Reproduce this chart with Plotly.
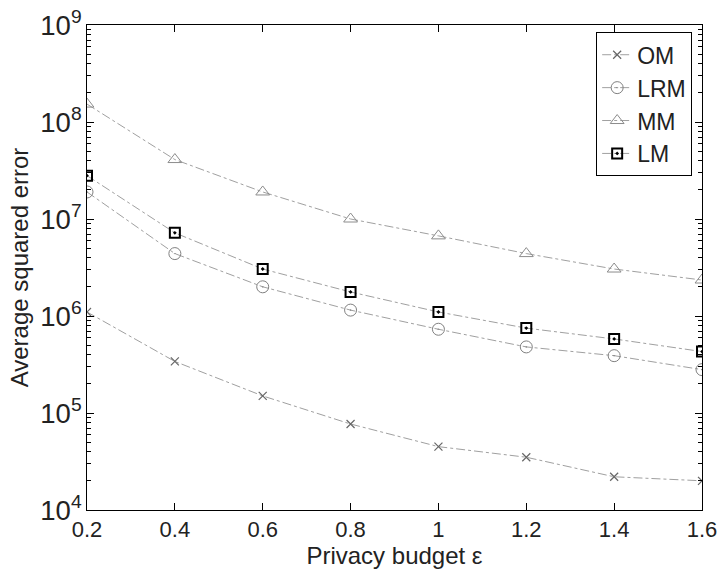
import plotly.graph_objects as go

eps = [0.2, 0.4, 0.6, 0.8, 1.0, 1.2, 1.4, 1.6]
om = [1.1e6, 3.4e5, 1.5e5, 7.7e4, 4.5e4, 3.5e4, 2.2e4, 2.0e4]
lrm = [1.9e7, 4.4e6, 2.0e6, 1.15e6, 7.3e5, 4.8e5, 3.9e5, 2.8e5]
mm = [1.53e8, 4.1e7, 1.9e7, 1.0e7, 6.7e6, 4.4e6, 3.05e6, 2.35e6]
lm = [2.8e7, 7.2e6, 3.05e6, 1.77e6, 1.1e6, 7.5e5, 5.8e5, 4.3e5]

series = [
    ("OM", om, "x-thin-open", "#666666", 8, 1.2),
    ("LRM", lrm, "circle-dot", "#808080", 12, 1),
    ("MM", mm, "triangle-up-open", "#8c8c8c", 12, 1),
    ("LM", lm, "square-dot", "#000000", 10, 2),
]

fig = go.Figure()
for name, ys, sym, col, sz, lw in series:
    fig.add_trace(go.Scatter(
        x=eps, y=ys, name=name, mode="lines+markers",
        line=dict(color="#a0a0a0", width=1, dash="dashdot"),
        marker=dict(symbol=sym, size=sz,
                    color=col if sym.endswith("open") else "rgba(255,255,255,0)",
                    line=dict(color=col, width=lw)),
    ))

font = "Liberation Sans, Arial, sans-serif"
fig.update_layout(
    template="none",
    width=722, height=573,
    margin=dict(l=87, r=20, t=25, b=63),
    font=dict(family=font, size=21, color="#222222"),
    legend=dict(x=0.984, y=0.985, xanchor="right", yanchor="top",
                bordercolor="black", borderwidth=1, bgcolor="white",
                font=dict(size=23), tracegroupgap=0),
    showlegend=True,
)
fig.update_xaxes(
    range=[0.2, 1.6], tick0=0.2, dtick=0.2,
    ticks="inside", ticklen=7, tickwidth=1, tickcolor="black",
    showline=True, linecolor="black", mirror="ticks",
    gridcolor="rgba(0,0,0,0)",
    title=dict(text="Privacy budget ε", font=dict(size=24), standoff=2),
    tickfont=dict(size=22),
)
fig.update_yaxes(
    type="log", range=[4, 9], dtick=1, exponentformat="power",
    ticks="inside", ticklen=7, tickwidth=1, tickcolor="black",
    showline=True, linecolor="black", mirror="ticks",
    gridcolor="rgba(0,0,0,0)",
    minor=dict(ticks="inside", ticklen=4, tickwidth=1, tickcolor="black",
               gridcolor="rgba(0,0,0,0)"),
    title=dict(text="Average squared error", font=dict(size=24), standoff=4),
    tickfont=dict(size=22),
)
fig.write_html("out.html")
